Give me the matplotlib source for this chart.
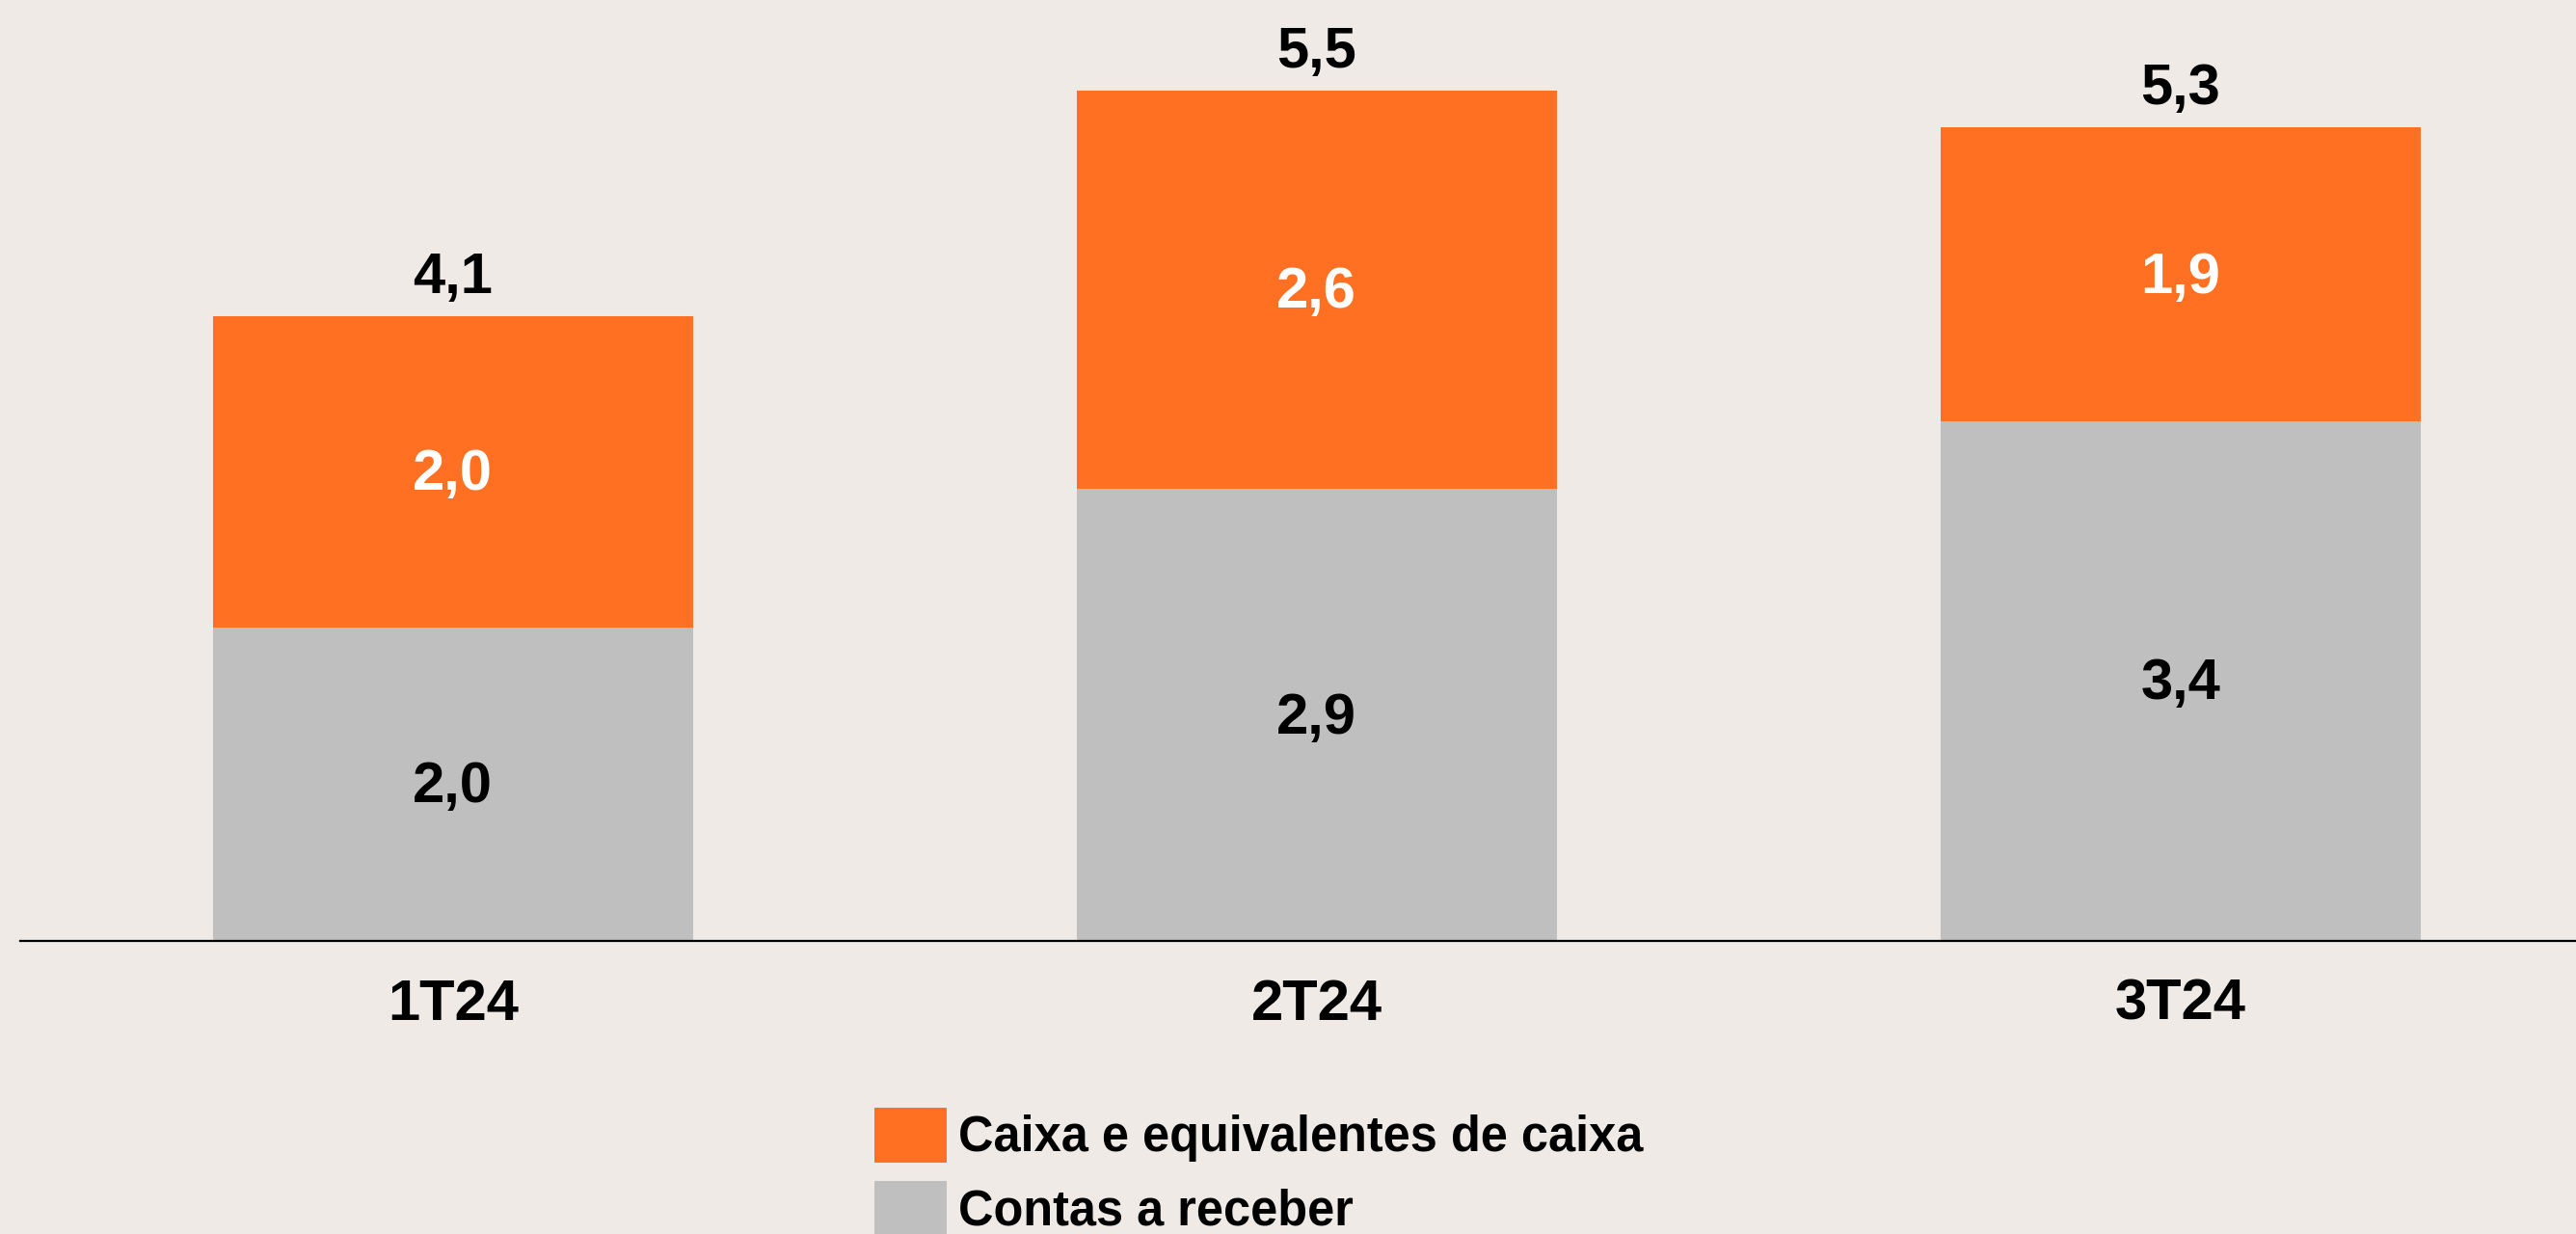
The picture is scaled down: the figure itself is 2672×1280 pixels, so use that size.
import matplotlib
matplotlib.use("Agg")
import matplotlib.pyplot as plt
from matplotlib.patches import Patch

categories = ["1T24", "2T24", "3T24"]
contas_receber = [2.04, 2.94, 3.38]
caixa = [2.02, 2.59, 1.91]
series_names = ["Caixa e equivalentes de caixa", "Contas a receber"]

BG = "#EFEAE6"
ORANGE = "#FF7022"
GRAY = "#BFBFBF"

plt.rcParams["font.family"] = ["Liberation Sans", "DejaVu Sans"]
plt.rcParams["font.weight"] = "bold"

W, H = 2672, 1280
fig = plt.figure(figsize=(W / 100, H / 100), dpi=100, facecolor=BG)
left_px = 21
ax = fig.add_axes([left_px / W, 0.2375, 1.0 - left_px / W, 0.7625], facecolor=BG)

x = list(range(len(categories)))
w = 0.556
ax.bar(x, contas_receber, width=w, color=GRAY, linewidth=0)
ax.bar(x, caixa, width=w, bottom=contas_receber, color=ORANGE, linewidth=0)

fs = 43
def fmt(v):
    return f"{v:.1f}".replace(".", ",")

for i in x:
    g, o = contas_receber[i], caixa[i]
    ax.annotate(fmt(g), (i, g / 2), xytext=(0, -2.5), textcoords="offset points",
                ha="center", va="center", fontsize=fs, fontweight="bold", color="black")
    ax.annotate(fmt(o), (i, g + o / 2), xytext=(0, -2.5), textcoords="offset points",
                ha="center", va="center", fontsize=fs, fontweight="bold", color="white")
    ax.annotate(fmt(g + o), (i, g + o), xytext=(0, 28.5), textcoords="offset points",
                ha="center", va="center", fontsize=fs, fontweight="bold", color="black")

ax.set_xlim(-0.501, 2.458)
ax.set_ylim(0, 6.119)
ax.set_xticks(x)
ax.set_xticklabels(categories, fontsize=fs, fontweight="bold")
ax.tick_params(axis="x", length=0, pad=28)
ax.set_yticks([])
for s in ["top", "right", "left"]:
    ax.spines[s].set_visible(False)
ax.spines["bottom"].set_linewidth(1.6)
ax.spines["bottom"].set_color("black")

lfs = 36.4
handles = [Patch(facecolor=ORANGE, edgecolor="none"), Patch(facecolor=GRAY, edgecolor="none")]
fig.legend(handles, series_names, loc="upper left", bbox_to_anchor=(907 / W, 1 - 1149 / H),
           frameon=False, prop={"weight": "bold", "size": lfs},
           handlelength=1.48, handleheight=1.35, handletextpad=0.25,
           labelspacing=0.38, borderpad=0, borderaxespad=0)

fig.savefig("out.png", dpi=100, facecolor=BG)
